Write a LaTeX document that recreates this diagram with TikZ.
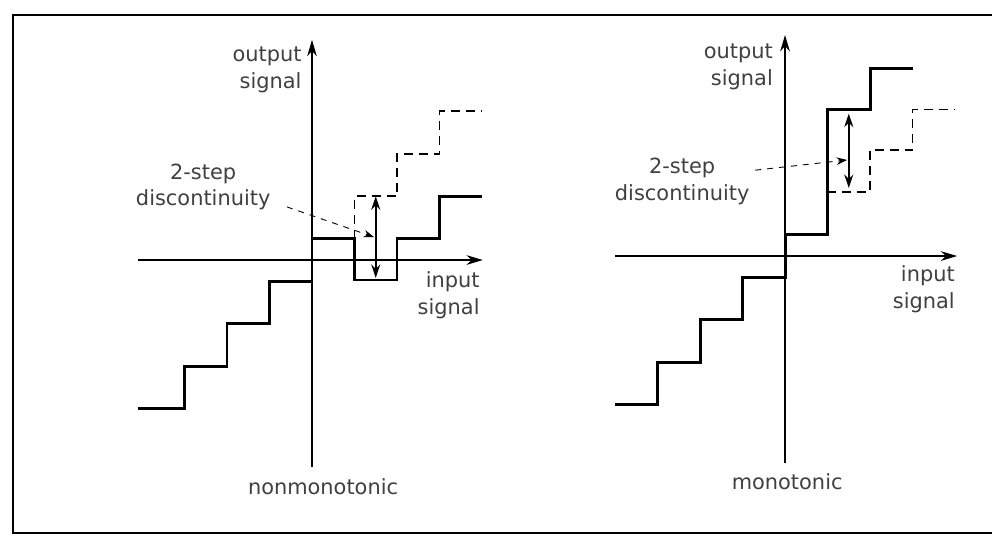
\documentclass[tikz,border=0pt]{standalone}
\usepackage{fontspec}
\setmainfont{DejaVu Sans}
\usetikzlibrary{arrows.meta}
\tikzset{
  axis/.style={-{Stealth[length=11pt,width=6.5pt]}, line width=0.8pt},
  stair/.style={line width=2pt, line join=miter},
  ideal/.style={line width=1.1pt, dash pattern=on 6pt off 4pt},
  jump/.style={{Stealth[length=9pt,width=6pt]}-{Stealth[length=9pt,width=6pt]}, line width=1.3pt},
  leader/.style={-{Stealth[length=7pt,width=5pt]}, line width=0.6pt, dash pattern=on 4pt off 4pt},
  lbl/.style={font=\fontsize{14}{18}\selectfont, text=black!75, inner sep=0pt},
}
\begin{document}
\begin{tikzpicture}
    \useasboundingbox (-7.341,-6.494) rectangle (16.0,6.118);
    \draw[line width=1.2pt] (16.1,5.765) -- (-7.035,5.765) -- (-7.035,-6.42) -- (16.1,-6.42);
    % nonmonotonic converter
    \draw[axis] (-4.1,0) -- (4.02,0);
    \draw[axis] (0,-4.87) -- (0,5.18);
    \node[lbl, align=right, anchor=east] (outA) at (-0.24,4.47) {output\\signal};
    \node[lbl, align=right, anchor=east] (inA) at (3.95,-0.82) {input\\signal};
    \node[lbl] (nameA) at (0.26,-5.34) {nonmonotonic};
    \node[lbl, align=center] (discA) at (-2.56,1.72) {2-step\\discontinuity};
    \draw[ideal] (1,0.5) -- (1,1.5) -- (2,1.5) -- (2,2.5) -- (3,2.5) -- (3,3.5) -- (4,3.5);
    \draw[stair] (-4.1,-3.5) -- (-3,-3.5) -- (-3,-2.5) -- (-2,-2.5) -- (-2,-1.5) -- (-1,-1.5)
        -- (-1,-0.5) -- (0,-0.5) -- (0,0.5) -- (1,0.5) -- (1,-0.47) -- (2,-0.47)
        -- (2,0.5) -- (3,0.5) -- (3,1.5) -- (4,1.5);
    \coordinate (topA) at (1.5,1.5);
    \coordinate (botA) at (1.5,-0.42);
    \draw[jump] (topA) -- (botA);
    \coordinate (fromA) at (-0.59,1.25);
    \coordinate (toA) at (1.46,0.54);
    \draw[leader] (fromA) -- (toA);
    % monotonic converter
    \begin{scope}[xshift=11.13cm, yshift=0.094cm]
        \draw[axis] (-4,0) -- (4.05,0);
        \draw[axis] (0,-4.87) -- (0,5.2);
        \node[lbl, align=right, anchor=east] (outB) at (-0.28,4.45) {output\\signal};
        \node[lbl, align=right, anchor=east] (inB) at (4.0,-0.78) {input\\signal};
        \node[lbl] (nameB) at (0.05,-5.32) {monotonic};
        \node[lbl, align=center] (discB) at (-2.42,1.75) {2-step\\discontinuity};
        \draw[ideal] (1,1.5) -- (2,1.5) -- (2,2.5) -- (3,2.5) -- (3,3.45) -- (4,3.45);
        \draw[stair] (-4,-3.5) -- (-3,-3.5) -- (-3,-2.5) -- (-2,-2.5) -- (-2,-1.5) -- (-1,-1.5)
            -- (-1,-0.5) -- (0,-0.5) -- (0,0.5) -- (1,0.5) -- (1,3.45) -- (2,3.45)
            -- (2,4.42) -- (3,4.42);
        \coordinate (topB) at (1.5,3.35);
        \coordinate (botB) at (1.5,1.6);
        \draw[jump] (topB) -- (botB);
        \coordinate (fromB) at (-0.7,2.02);
        \coordinate (toB) at (1.46,2.26);
        \draw[leader] (fromB) -- (toB);
    \end{scope}
\end{tikzpicture}
\end{document}
